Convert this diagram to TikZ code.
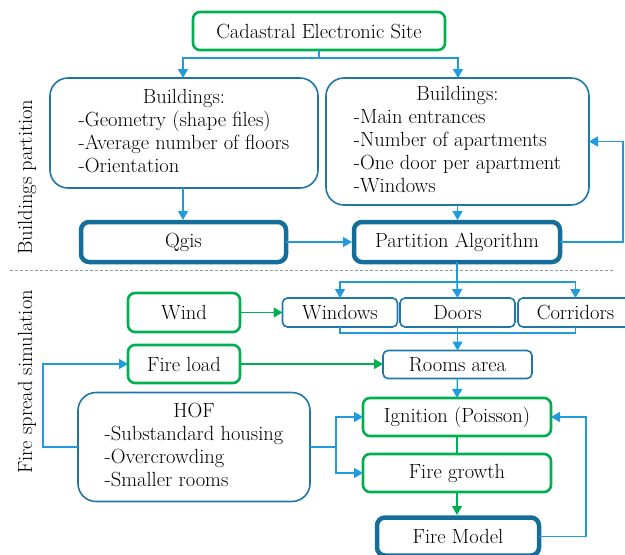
\documentclass[tikz,border=0pt]{standalone}
\usetikzlibrary{arrows.meta}
\definecolor{grn}{HTML}{00B050}
\definecolor{lnblue}{HTML}{1F9BDE}
\definecolor{bxblue}{HTML}{1F76A8}
\definecolor{dkblue}{HTML}{156E9A}
\begin{document}
\begin{tikzpicture}[x=1pt,y=-1pt,
  every node/.style={font=\fontsize{20.5}{23}\selectfont, inner sep=0pt, outer sep=0pt},
  greenbox/.style={draw=grn, line width=2.6pt, rounded corners=7pt},
  thinbox/.style={draw=bxblue, line width=1.6pt, rounded corners=18pt},
  smallbox/.style={draw=bxblue, line width=1.6pt, rounded corners=5pt},
  heavybox/.style={draw=dkblue, line width=4.5pt, rounded corners=8pt},
  link/.style={draw=lnblue, line width=1.5pt},
  arr/.style={link, -{Triangle[length=9pt,width=10pt]}},
  garr/.style={draw=grn, line width=1.5pt, -{Triangle[length=9pt,width=10pt]}},
  gline/.style={draw=grn, line width=1.5pt},
  sidelabel/.style={rotate=90}
]
\useasboundingbox (0,0) rectangle (625,555);

% ---------- building partition ----------
\node[greenbox, minimum width=252, minimum height=38] (cad) at (319,31) {Cadastral Electronic Site};
\node[thinbox, minimum width=268, minimum height=110] (bl) at (184,133)
  {\begin{tabular}{@{}l@{}}\multicolumn{1}{@{}c@{}}{Buildings:}\\-Geometry (shape files)\\-Average number of floors\\-Orientation\end{tabular}};
\node[thinbox, minimum width=263, minimum height=127] (br) at (457.5,141.5)
  {\begin{tabular}{@{}l@{}}\multicolumn{1}{@{}c@{}}{Buildings:}\\-Main entrances\\-Number of apartments\\-One door per apartment\\-Windows\end{tabular}};
\node[heavybox, minimum width=205, minimum height=40] (qg) at (183.5,242) {Qgis};
\node[heavybox, minimum width=206, minimum height=40] (pa) at (457,242) {Partition Algorithm};

\draw[link] (cad.south) -- ++(0,8) coordinate (cj);
\draw[arr] (cj) -| (183,78);
\draw[arr] (cj) -| (458,78);
\draw[arr] (183,188) -- (183,220);
\draw[arr] (br.south) -- (457.5,220);
\draw[arr] (qg.east) -- (352,242);
\draw[arr] (pa.east) -- ++(63,0) |- (br.east);

\node[sidelabel] (lab1) at (27,177) {Buildings partition};
\draw[gray!80, line width=1pt, dash pattern=on 3pt off 2pt] (10,270) -- (615,270);
\node[sidelabel] (lab2) at (27,382) {Fire spread simulation};

% ---------- fire spread simulation ----------
\node[smallbox, minimum width=115, minimum height=29] (win) at (340,312.5) {Windows};
\node[smallbox, minimum width=115, minimum height=29] (door) at (457.5,312.5) {Doors};
\node[smallbox, minimum width=115, minimum height=29] (cor) at (575.5,312.5) {Corridors};
\node[smallbox, minimum width=149, minimum height=28] (ra) at (457.5,364.5) {Rooms area};

\node[greenbox, minimum width=112, minimum height=39] (wind) at (184,312.5) {Wind};
\node[greenbox, minimum width=112, minimum height=38] (fl) at (184,364) {Fire load};
\node[thinbox, minimum width=232, minimum height=109] (hof) at (194,447)
  {\begin{tabular}{@{}l@{}}\multicolumn{1}{@{}c@{}}{HOF}\\-Substandard housing\\-Overcrowding\\-Smaller rooms\end{tabular}};

\node[greenbox, minimum width=188, minimum height=38] (ign) at (457,417) {Ignition (Poisson)};
\node[greenbox, minimum width=188, minimum height=38] (grow) at (457,473) {Fire growth};
\node[heavybox, minimum width=162, minimum height=38] (fm) at (458,536.5) {Fire Model};

\draw[link] (pa.south) -- ++(0,20) coordinate (pj);
\draw[arr] (pj) -| (win.north);
\draw[arr] (pj) -- (door.north);
\draw[arr] (pj) -| (cor.north);
\draw[link] (win.south) -- ++(0,6) -| (cor.south);
\draw[arr] (door.south) -- (ra.north);

\draw[garr] (wind.east) -- (win.west);
\draw[garr] (fl.east) -- (ra.west |- fl.east);
\draw[arr] (ra.south) -- (457,398);

\draw[arr] (hof.west) -- ++(-35,0) |- (fl.west);
\draw[link] (hof.east) -- ++(26,0) coordinate (hj);
\draw[arr] (hj) |- (ign.west);
\draw[arr] (hj) |- (grow.west);

\draw[gline] (ign.south) -- (grow.north);
\draw[garr] (grow.south) -- (457,515);
\draw[arr] (fm.east) -- ++(47,0) |- (ign.east);
\end{tikzpicture}
\end{document}
